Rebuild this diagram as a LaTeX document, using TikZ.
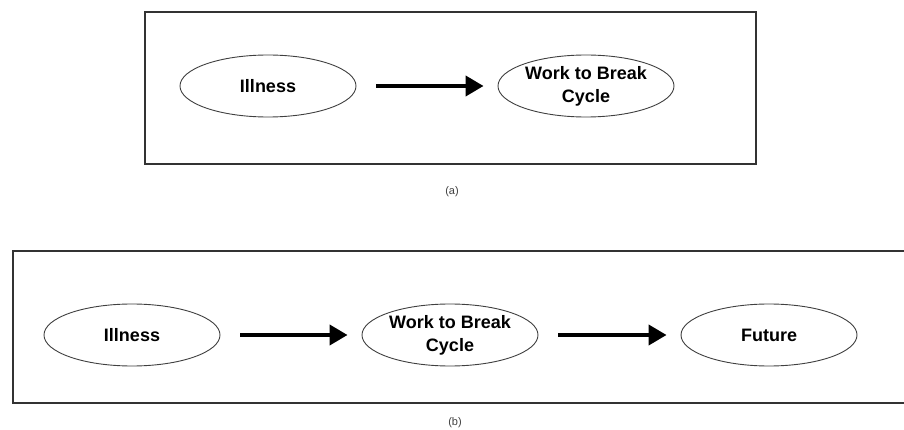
\documentclass[tikz,border=0pt]{standalone}
\usepackage{fontspec}
\setmainfont{Liberation Sans}
\usetikzlibrary{arrows.meta}
\usetikzlibrary{shapes.geometric}
\tikzset{oval/.style = {draw = black!75, line width = 0.9pt, ellipse, inner sep = 0,
    minimum width = 176pt, minimum height = 62pt, align = center,
    font = \fontsize{18}{22}\selectfont\bfseries}}
\tikzset{fwd/.style = {line width = 4pt, -{Triangle[length = 18pt, width = 20pt]},
    shorten < = 20pt, shorten > = 14pt}}
\tikzset{panel/.style = {draw = black!80, line width = 2pt}}
\tikzset{sublabel/.style = {font = \fontsize{11}{13}\selectfont, text = black!75}}

\begin{document}
\begin{tikzpicture}[x = 1pt, y = -1pt]
      \useasboundingbox [fill = white] (0, 0) rectangle (904, 430);
      \clip (0, 0) rectangle (904, 430);

      % (a)
      \draw [panel] (145, 12) rectangle (756, 164);
      \node [oval] (ill) at (268, 86) {Illness};
      \node [oval] (work) at (586, 86) {Work to Break\\[1pt]Cycle};
      \draw [fwd] (ill) -- (work);
      \node [sublabel] (suba) at (452, 192) {(a)};

      % (b)
      \draw [panel] (13, 251) rectangle (910, 403);
      \node [oval] (illb) at (132, 335) {Illness};
      \node [oval] (workb) at (450, 335) {Work to Break\\[1pt]Cycle};
      \node [oval] (fut) at (769, 335) {Future};
      \foreach \a/\b in {illb/workb, workb/fut} {
        \draw [fwd] (\a) -- (\b);
      }
      \node [sublabel] (subb) at (455, 423) {(b)};
    \end{tikzpicture}
\end{document}
